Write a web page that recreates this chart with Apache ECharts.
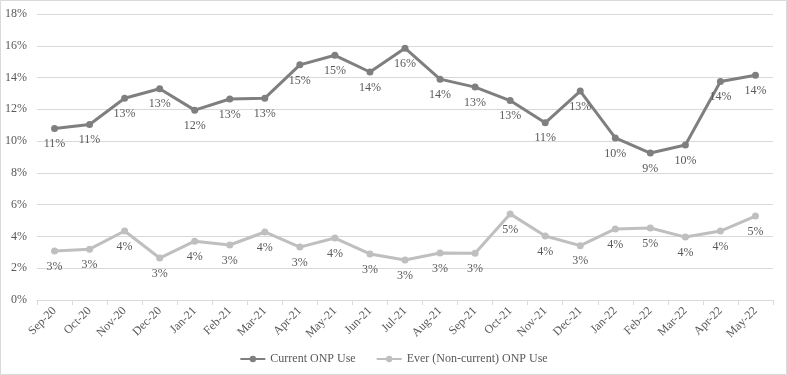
<!DOCTYPE html>
<html>
<head>
<meta charset="utf-8">
<script src="https://cdn.jsdelivr.net/npm/echarts@6/dist/echarts.min.js"></script>
<style>
	html, body {margin: 0; padding: 0; background: #fff;}
	#chart {width: 787px; height: 375px;}
</style>
</head>
<body>
<div id="chart"></div>
<script type="text/javascript">
	// 月份
	var months = ['Sep-20', 'Oct-20', 'Nov-20', 'Dec-20', 'Jan-21', 'Feb-21', 'Mar-21', 'Apr-21', 'May-21', 'Jun-21',
		'Jul-21', 'Aug-21', 'Sep-21', 'Oct-21', 'Nov-21', 'Dec-21', 'Jan-22', 'Feb-22', 'Mar-22', 'Apr-22', 'May-22'];
	var seriesNames = ['Current ONP Use', 'Ever (Non-current) ONP Use'];
	var currentUse = [10.8, 11.05, 12.7, 13.3, 11.95, 12.65, 12.7, 14.8, 15.4, 14.35,
		15.85, 13.9, 13.4, 12.55, 11.15, 13.15, 10.2, 9.25, 9.75, 13.75, 14.15];
	var everUse = [3.08, 3.2, 4.34, 2.64, 3.7, 3.46, 4.28, 3.33, 3.9, 2.9,
		2.52, 2.96, 2.95, 5.42, 4.03, 3.42, 4.47, 4.53, 3.96, 4.34, 5.28];
	var yTicks = [0, 2, 4, 6, 8, 10, 12, 14, 16, 18];

	var font = '"Liberation Serif", "Times New Roman", serif';
	var myChart = echarts.init(document.getElementById('chart'));

	function makeSerie(name, data, color) {
		return {
			name: name,
			type: 'line',
			data: data,
			symbol: 'circle',
			symbolSize: 7,
			lineStyle: {width: 3, color: color},
			itemStyle: {color: color},
			label: {
				show: true,
				position: 'bottom',
				distance: 6,
				color: '#595959',
				fontFamily: font,
				fontSize: 12,
				formatter: function (p) {
					return Math.round(p.value) + '%';
				}
			}
		};
	}

	var option = {
		animation: false,
		textStyle: {fontFamily: font},
		graphic: [{
			type: 'rect',
			shape: {x: 0.5, y: 0.5, width: 786, height: 374},
			style: {fill: 'none', stroke: '#d9d9d9', lineWidth: 1}
		}],
		legend: {
			data: seriesNames,
			bottom: 5,
			left: 'center',
			itemWidth: 25,
			itemHeight: 8,
			itemGap: 20,
			textStyle: {color: '#595959', fontSize: 12, fontFamily: font}
		},
		grid: {
			left: 37,
			right: 14,
			top: 14,
			bottom: 75
		},
		xAxis: {
			type: 'category',
			data: months,
			boundaryGap: true,
			axisLine: {lineStyle: {color: '#d9d9d9'}},
			axisTick: {show: true, length: 5, lineStyle: {color: '#d9d9d9'}},
			axisLabel: {
				rotate: 45,
				interval: 0,
				color: '#595959',
				fontSize: 12,
				fontFamily: font,
				margin: 9
			}
		},
		yAxis: {
			type: 'value',
			min: yTicks[0],
			max: yTicks[yTicks.length - 1],
			interval: 2,
			axisLine: {show: false},
			axisTick: {show: false},
			splitLine: {lineStyle: {color: '#d9d9d9'}},
			axisLabel: {
				color: '#595959',
				fontSize: 12,
				fontFamily: font,
				margin: 10,
				formatter: '{value}%'
			}
		},
		series: [
			makeSerie(seriesNames[0], currentUse, '#7f7f7f'),
			makeSerie(seriesNames[1], everUse, '#bfbfbf')
		]
	};
	myChart.setOption(option);
</script>
</body>
</html>
